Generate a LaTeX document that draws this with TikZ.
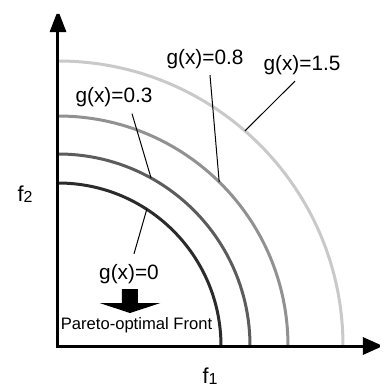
\documentclass[tikz,border=0pt]{standalone}
\usepackage{fontspec}
\setmainfont{Liberation Sans}
\usetikzlibrary{arrows.meta,calc,positioning}
\definecolor{front0}{rgb}{0.17, 0.17, 0.17}
\definecolor{front03}{rgb}{0.36, 0.36, 0.36}
\definecolor{front08}{rgb}{0.57, 0.57, 0.57}
\definecolor{front15}{rgb}{0.79, 0.79, 0.79}
\newcommand{\fsub}[2]{{\fontsize{10.8}{12}\selectfont #1{\fontsize{8}{9}\selectfont\raisebox{-0.6pt}{#2}}}}

\begin{document}
\begin{tikzpicture}[x=0.5pt,y=0.5pt,
    lbl/.style={inner sep=1pt,font=\fontsize{10.4}{12}\selectfont},
    front/.style={line width=1.5pt},
    leader/.style={line width=0.5pt}]
    \useasboundingbox (0,0) rectangle (386,388);
    \begin{scope}[shift={(0,0)}]
        \coordinate (O) at (58,42);
        \coordinate (ytip) at (58,378);
        \coordinate (xtip) at (383,42);

        % fronts
        \draw[front,front0] ($(O)+(163,0)$) arc (0:90:163);
        \draw[front,front03] ($(O)+(192,0)$) arc (0:90:192);
        \draw[front,front08] ($(O)+(230,0)$) arc (0:90:230);
        \draw[front,front15] ($(O)+(285,0)$) arc (0:90:285);

        % axes
        \draw[line width=1.5pt,miter limit=2,{Triangle[length=11pt,width=8pt]}-{Triangle[length=10pt,width=8.5pt]}] (ytip) -- (O) -- (xtip);

        \node (f2) at (25,194) {\fsub{f}{2}};
        \node (f1) at (210,12) {\fsub{f}{1}};

        \node[lbl] (l0) at (129,114) {g(x)=0};
        \node[lbl] (l03) at (114,290.5) {g(x)=0.3};
        \node[lbl] (l08) at (205,329) {g(x)=0.8};
        \node[lbl] (l15) at (302,323) {g(x)=1.5};
        \node[inner sep=1pt,font=\fontsize{8.3}{10}\selectfont] (pf) at (136.5,63) {Pareto-optimal Front};

        \coordinate (c0) at ($(O)+(57:163)$);
        \coordinate (c03) at ($(O)+(61:192)$);
        \coordinate (c08) at ($(O)+(45.5:230)$);
        \coordinate (c15) at ($(O)+(49:285)$);

        \draw[leader] ([xshift=2.5pt,yshift=4pt]l0.north) -- (c0);
        \draw[leader] ([xshift=9pt,yshift=-2pt]l03.south) -- (c03);
        \draw[leader] ([xshift=2.5pt,yshift=-2pt]l08.south) -- (c08);
        \draw[leader] ([xshift=-3.5pt,yshift=-2pt]l15.south) -- (c15);

        % block arrow down to the front label
        \coordinate (ar) at (130,99);
        \fill (ar) ++(-8,0) -- ++(0,-14) -- ++(-22.5,0) -- ++(30.5,-10)
            -- ++(30.5,10) -- ++(-22.5,0) -- ++(0,14) -- cycle;
    \end{scope}
\end{tikzpicture}
\end{document}
